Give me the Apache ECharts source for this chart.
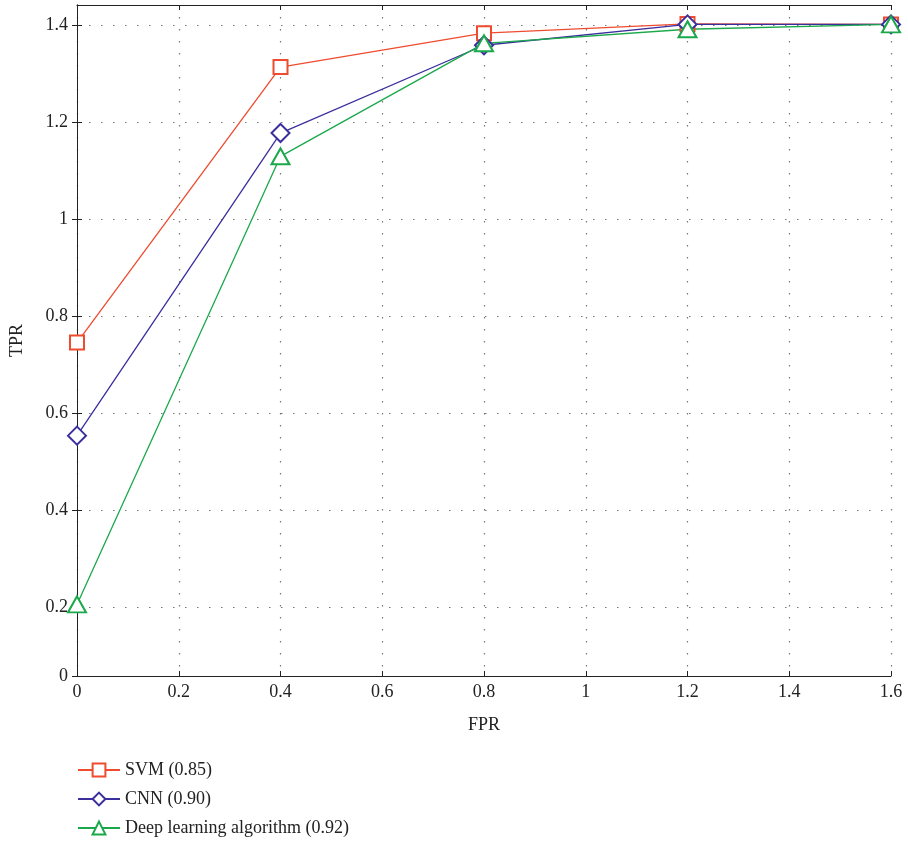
<!DOCTYPE html>
<html><head><meta charset="utf-8">
<script src="https://cdn.jsdelivr.net/npm/echarts@6/dist/echarts.min.js"></script>
<style>html,body{margin:0;padding:0;background:#fff}#c{width:908px;height:842px}</style>
</head><body><div id="c"></div>
<script>
const fprValues = [0, 0.4, 0.8, 1.2, 1.6];
const svmTPR = [0.745, 1.313, 1.383, 1.402, 1.401];
const cnnTPR = [0.553, 1.177, 1.358, 1.401, 1.401];
const dlTPR  = [0.205, 1.129, 1.362, 1.391, 1.401];
const seriesNames = ['SVM (0.85)', 'CNN (0.90)', 'Deep learning algorithm (0.92)'];
const xTicks = [0, 0.2, 0.4, 0.6, 0.8, 1, 1.2, 1.4, 1.6];
const yTickValues = [0.0574, 0.2, 0.4, 0.6, 0.8, 1, 1.2, 1.4];
const yTickLabels = ['0', '0.2', '0.4', '0.6', '0.8', '1', '1.2', '1.4'];

const font = 'Liberation Serif';
const pairs = arr => fprValues.map((x, i) => [x, arr[i]]);
const yMin = 0.0574, yMax = 1.441;
const fmtY = v => {
  let best = 0, bd = 1e9;
  yTickValues.forEach((t, i) => { const d = Math.abs(t - v); if (d < bd) { bd = d; best = i; } });
  return bd < 0.01 ? yTickLabels[best] : '';
};
const fmtX = v => String(Math.round(v * 10) / 10);
const axisLine = {show: true, lineStyle: {color: '#222', width: 1}};
const tickX = {show: true, inside: true, length: 5, lineStyle: {color: '#222'}, customValues: xTicks};
const tickY = {show: true, inside: true, length: 5, lineStyle: {color: '#222'}, customValues: yTickValues};
const split = {show: true, lineStyle: {color: '#777', type: [1.5, 10.5], width: 1.2}};

const chart = echarts.init(document.getElementById('c'), null, {renderer: 'canvas'});
chart.setOption({
  animation: false,
  backgroundColor: '#fff',
  grid: {left: 77, right: 17, top: 5, bottom: 166, containLabel: false},
  xAxis: [
    {type: 'value', min: 0, max: 1.6, interval: 0.2, position: 'bottom',
     name: 'FPR', nameLocation: 'middle', nameGap: 40,
     nameTextStyle: {fontFamily: font, fontSize: 18, color: '#222'},
     axisLine, axisTick: tickX, splitLine: split,
     axisLabel: {formatter: fmtX, fontFamily: font, fontSize: 18, color: '#222', margin: 7, customValues: xTicks}},
    {type: 'value', min: 0, max: 1.6, interval: 0.2, position: 'top',
     axisLine, axisTick: tickX, splitLine: {show: false}, axisLabel: {show: false}}
  ],
  yAxis: [
    {type: 'value', min: yMin, max: yMax, position: 'left',
     name: 'TPR', nameLocation: 'middle', nameGap: 51, nameRotate: 90,
     nameTextStyle: {fontFamily: font, fontSize: 18, color: '#222'},
     axisLine, axisTick: tickY, splitLine: split,
     axisLabel: {formatter: fmtY, fontFamily: font, fontSize: 18, color: '#222', margin: 9, customValues: yTickValues}},
    {type: 'value', min: yMin, max: yMax, position: 'right',
     axisLine, axisTick: tickY, splitLine: {show: false}, axisLabel: {show: false}}
  ],
  legend: {
    orient: 'vertical', left: 72, top: 756, itemGap: 11,
    itemWidth: 42, itemHeight: 16,
    textStyle: {fontFamily: font, fontSize: 18, color: '#222'},
    data: seriesNames
  },
  series: [
    {name: seriesNames[0], type: 'line', data: pairs(svmTPR), symbol: 'emptyRect', symbolSize: 14,
     color: '#ee4b2f', lineStyle: {width: 1.3, color: '#ee4b2f'}, itemStyle: {color: '#ee4b2f', borderWidth: 1.3}},
    {name: seriesNames[1], type: 'line', data: pairs(cnnTPR), symbol: 'emptyDiamond', symbolSize: 18,
     color: '#3a2f9c', lineStyle: {width: 1.3, color: '#3a2f9c'}, itemStyle: {color: '#3a2f9c', borderWidth: 1.3}},
    {name: seriesNames[2], type: 'line', data: pairs(dlTPR), symbol: 'emptyTriangle', symbolSize: [18, 16],
     color: '#1aa84a', lineStyle: {width: 1.3, color: '#1aa84a'}, itemStyle: {color: '#1aa84a', borderWidth: 1.3}}
  ]
});
</script>
</body></html>
